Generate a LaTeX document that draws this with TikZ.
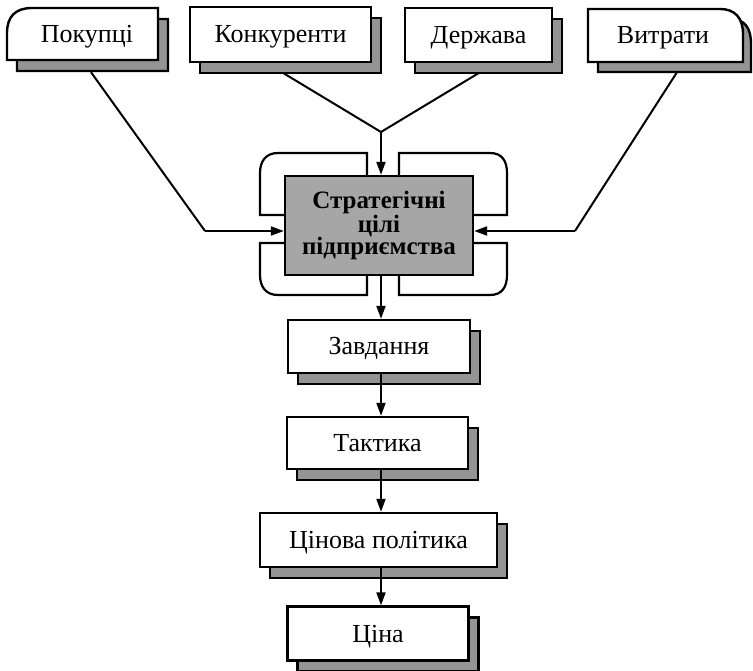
\documentclass[tikz,border=0pt]{standalone}
\usepackage{fontspec}
\setmainfont{Liberation Serif}
\usetikzlibrary{arrows.meta,shadows,calc}
\definecolor{shgray}{gray}{0.58}
\definecolor{cgray}{gray}{0.65}
\tikzset{
  lbl/.style={font=\fontsize{26}{28}\selectfont, inner sep=0pt, text height=17pt, text depth=0pt},
  box/.style={lbl, draw, line width=2.4pt, fill=white,
    drop shadow={shadow xshift=10pt, shadow yshift=-11pt, opacity=1, fill=shgray, draw=black, line width=2.4pt}},
  shp/.style={draw, line width=2.4pt},
  brk/.style={draw, line width=2.2pt},
  conn/.style={line width=2pt},
  arr/.style={conn, -{Triangle[length=13pt,width=9pt]}}
}
\begin{document}
\begin{tikzpicture}[x=1pt,y=-1pt]
\useasboundingbox (0,0) rectangle (753,671);
% rounded boxes drawn directly
\path[shp, fill=shgray] (17,71) -- (17,44) .. controls (17,28) and (25,19) .. (42,19) -- (168,19) -- (168,71) -- cycle;
\path[shp, fill=white] (7,60) -- (7,33) .. controls (7,17) and (15,8) .. (32,8) -- (158,8) -- (158,60) -- cycle;
\path[shp, fill=shgray] (598,72) -- (598,19) -- (730,19) .. controls (745,19) and (751,28) .. (751,44) -- (751,72) -- cycle;
\path[shp, fill=white] (588,62) -- (588,9) -- (720,9) .. controls (735,9) and (743,18) .. (743,34) -- (743,62) -- cycle;
\node[lbl, minimum width=151pt, minimum height=52pt] (pok) at (87,34) {Покупці};
\node[lbl, minimum width=155pt, minimum height=53pt] (vytr) at (663,35.5) {Витрати};
\node[box, minimum width=181pt, minimum height=55pt] (konk) at (280.5,34.5) {Конкуренти};
\node[box, minimum width=147pt, minimum height=54pt] (derzh) at (478.5,35) {Держава};
% central
\node[draw, line width=2.4pt, fill=cgray, minimum width=188pt, minimum height=99pt, align=center, inner sep=0pt,
  font=\fontsize{25}{22.5}\selectfont\bfseries] (cent) at (379,225.5) {Стратегічні\\цілі\\підприємства};
% brackets
\draw[brk] (367,176) -- (367,153) -- (278,153) .. controls (266,153) and (260,161) .. (260,173) -- (260,215) -- (285,215);
\draw[brk] (367,275) -- (367,295) -- (278,295) .. controls (266,295) and (260,287) .. (260,275) -- (260,243) -- (285,243);
\draw[brk] (399,176) -- (399,153) -- (490,153) .. controls (502,153) and (507,161) .. (507,173) -- (507,215) -- (473,215);
\draw[brk] (399,275) -- (399,295) -- (490,295) .. controls (502,295) and (507,287) .. (507,275) -- (507,243) -- (473,243);
% lower boxes
\node[box, minimum width=182pt, minimum height=53pt] (zavd) at (379,346.5) {Завдання};
\node[box, minimum width=181pt, minimum height=52pt] (takt) at (377.5,443) {Тактика};
\node[box, minimum width=237pt, minimum height=54pt] (cinpol) at (378.5,540) {Цінова політика};
\node[box, minimum width=181pt, minimum height=54pt] (cina) at (378,633.5) {Ціна};
% connectors
\coordinate (j) at (381,132);
\coordinate (lb) at (205,231);
\coordinate (rb) at (575,231);
\draw[conn] ([xshift=4pt,yshift=-12pt]pok.south) -- (lb);
\draw[arr] (lb) -- (lb -| cent.west);
\draw[conn] ([xshift=14pt,yshift=-10pt]vytr.south) -- (rb);
\draw[arr] (rb) -- (rb -| cent.east);
\draw[conn] ([xshift=3pt,yshift=-10pt]konk.south) -- (j);
\draw[conn] ([xshift=0pt,yshift=-10pt]derzh.south) -- (j);
\draw[arr] (j) -- (j |- cent.north);
\draw[arr] (cent.south -| j) -- (zavd.north -| j);
\draw[arr] (zavd.south -| j) -- (takt.north -| j);
\draw[arr] (takt.south -| j) -- (cinpol.north -| j);
\draw[arr] (cinpol.south -| j) -- (cina.north -| j);
\end{tikzpicture}
\end{document}
